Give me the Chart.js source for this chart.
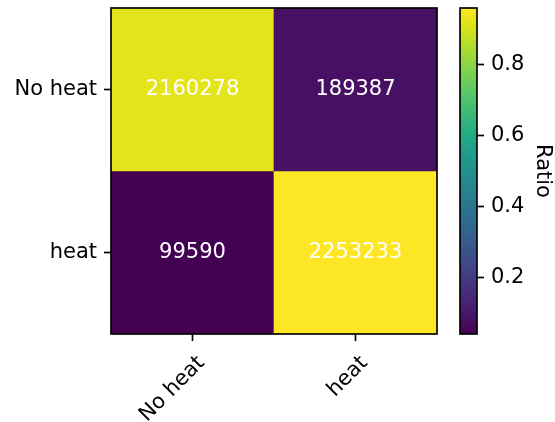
<!DOCTYPE html>
<html>
<head>
<meta charset="utf-8">
<script src="https://cdn.jsdelivr.net/npm/chart.js@4.4.1/dist/chart.umd.min.js"></script>
<style>
html,body{margin:0;padding:0;background:#fff;}
#wrap{position:relative;width:555px;height:422px;}
canvas{position:absolute;left:0;top:0;}
</style>
</head>
<body>
<div id="wrap">
<canvas id="main" width="555" height="422"></canvas>
<canvas id="cbar" width="555" height="422"></canvas>
</div>
<script>
// ---- data ----
const xLabels = ['No heat', 'heat'];          // predicted
const yLabels = ['No heat', 'heat'];          // actual
const rowNoHeat = [2160278, 189387];
const rowHeat = [99590, 2253233];
const cbTicks = [0.2, 0.4, 0.6, 0.8];
const cbTitle = 'Ratio';

const counts = [rowNoHeat, rowHeat];
const ratios = counts.map(r => { const s = r[0] + r[1]; return r.map(v => v / s); });
const allR = ratios.flat();
const vmin = Math.min(...allR), vmax = Math.max(...allR);

const viridis = ['#440154','#471365','#482475','#463480','#414487','#3b528b','#355f8d','#2f6c8e','#2a788e','#25848e','#21918c','#1e9c89','#22a884','#2fb47c','#44bf70','#5ec962','#7ad151','#9bd93c','#bddf26','#dfe318','#fde725'];
function hex(h){return [parseInt(h.slice(1,3),16),parseInt(h.slice(3,5),16),parseInt(h.slice(5,7),16)];}
function cmap(t){
  t = Math.max(0, Math.min(1, t));
  const f = t * (viridis.length - 1);
  const i = Math.min(Math.floor(f), viridis.length - 2);
  const u = f - i;
  const a = hex(viridis[i]), b = hex(viridis[i+1]);
  const c = a.map((v,k) => Math.round(v + (b[k]-v)*u));
  return `rgb(${c[0]},${c[1]},${c[2]})`;
}
const norm = v => (v - vmin) / (vmax - vmin);

const FONT = "'DejaVu Sans', sans-serif";
const FS = 21;
const LW = 1.67;

function noPad(s) { s.paddingTop = 0; s.paddingBottom = 0; s.paddingLeft = 0; s.paddingRight = 0; }

const frame = {
  id: 'frame',
  afterDraw(chart) {
    const a = chart.chartArea, ctx = chart.ctx;
    ctx.save();
    ctx.strokeStyle = '#000';
    ctx.lineWidth = LW;
    ctx.strokeRect(a.left, a.top, a.right - a.left, a.bottom - a.top);
    ctx.restore();
  }
};

const annot = {
  id: 'annot',
  afterDatasetsDraw(chart) {
    const ctx = chart.ctx;
    ctx.save();
    ctx.fillStyle = '#fff';
    ctx.font = `${FS}px ${FONT}`;
    ctx.textAlign = 'center';
    ctx.textBaseline = 'middle';
    chart.data.datasets.forEach((ds, di) => {
      chart.getDatasetMeta(di).data.forEach((el, i) => {
        const p = el.getProps(['x', 'y', 'base'], true);
        ctx.fillText(String(counts[di][i]), p.x, (p.y + p.base) / 2);
      });
    });
    ctx.restore();
  }
};

new Chart(document.getElementById('main'), {
  type: 'bar',
  data: {
    labels: xLabels,
    datasets: yLabels.map((lab, r) => ({
      label: lab,
      data: ratios[r].map(() => 1),
      backgroundColor: ratios[r].map(v => cmap(norm(v))),
      borderWidth: 0,
      barPercentage: 1,
      categoryPercentage: 1,
      stack: 's'
    }))
  },
  options: {
    responsive: false,
    devicePixelRatio: 1,
    animation: false,
    layout: { autoPadding: false, padding: { top: 8, right: 118, left: 0, bottom: 0 } },
    plugins: { legend: { display: false }, tooltip: { enabled: false } },
    scales: {
      x: {
        stacked: true,
        grid: { display: true, drawOnChartArea: false, drawTicks: true, tickLength: 7, tickWidth: LW, tickColor: '#000', offset: false },
        border: { display: false },
        ticks: { color: '#000', font: { family: FONT, size: FS }, minRotation: 45, maxRotation: 45, padding: 10, labelOffset: 9 },
        afterFit(s) { s.height = 88; noPad(s); }
      },
      y: {
        stacked: true,
        reverse: true,
        min: 0, max: 2,
        afterBuildTicks(s) { s.ticks = [{ value: 0.5 }, { value: 1.5 }]; },
        grid: { display: true, drawOnChartArea: false, drawTicks: true, tickLength: 7, tickWidth: LW, tickColor: '#000' },
        border: { display: false },
        ticks: { color: '#000', font: { family: FONT, size: FS }, padding: 7,
          callback: (v, i) => yLabels[i] },
        afterFit(s) { s.width = 111; noPad(s); }
      }
    }
  },
  plugins: [annot, frame]
});

new Chart(document.getElementById('cbar'), {
  type: 'bar',
  data: {
    labels: [''],
    datasets: [{
      data: [[vmin, vmax]],
      backgroundColor(ctx) {
        const ch = ctx.chart, y = ch.scales.y;
        if (!y || !ch.chartArea) return '#000';
        const g = ch.ctx.createLinearGradient(0, y.getPixelForValue(vmin), 0, y.getPixelForValue(vmax));
        viridis.forEach((c, i) => g.addColorStop(i / (viridis.length - 1), c));
        return g;
      },
      borderWidth: 0,
      barPercentage: 1,
      categoryPercentage: 1
    }]
  },
  options: {
    responsive: false,
    devicePixelRatio: 1,
    animation: false,
    layout: { autoPadding: false, padding: { top: 8, right: 0, left: 460, bottom: 88 } },
    plugins: { legend: { display: false }, tooltip: { enabled: false } },
    scales: {
      x: { display: false },
      y: {
        position: 'right',
        min: vmin, max: vmax,
        afterBuildTicks(s) { s.ticks = cbTicks.map(v => ({ value: v })); },
        grid: { display: true, drawOnChartArea: false, drawTicks: true, tickLength: 7, tickWidth: LW, tickColor: '#000' },
        border: { display: false },
        ticks: { color: '#000', font: { family: FONT, size: FS }, padding: 7, callback: v => v.toFixed(1) },
        title: { display: true, text: cbTitle, color: '#000', font: { family: FONT, size: FS }, padding: { top: 0, bottom: 2 } },
        afterFit(s) { s.width = 78; noPad(s); }
      }
    }
  },
  plugins: [frame]
});
</script>
</body>
</html>
